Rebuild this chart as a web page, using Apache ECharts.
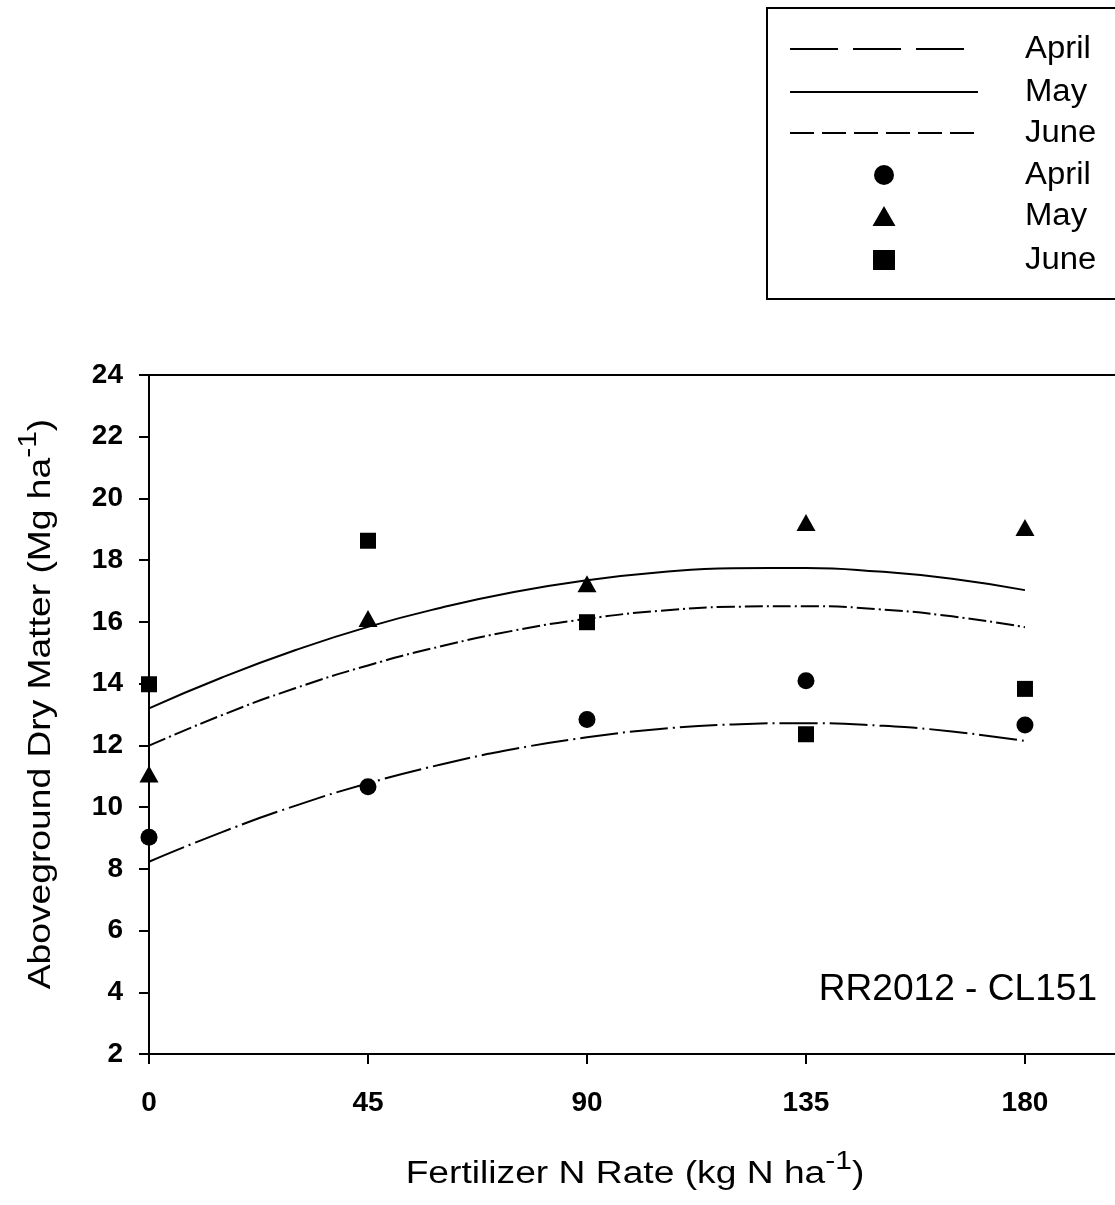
<!DOCTYPE html>
<html><head><meta charset="utf-8">
<script src="https://cdn.jsdelivr.net/npm/echarts@6/dist/echarts.min.js"></script>
<style>html,body{margin:0;padding:0;background:#fff}#c{width:1115px;height:1205px}</style>
</head><body><div id="c"></div>
<script>
// ---- data ----
const xTicks = [0, 45, 90, 135, 180];
const rates = [0, 45, 90, 135, 180];
const aprilObs = [9.02, 10.66, 12.84, 14.09, 12.66];
const mayObs   = [11.07, 16.11, 17.24, 19.22, 19.06];
const juneObs  = [13.98, 18.63, 15.99, 12.36, 13.83];
// fitted curves
const fitRates = [0, 15, 30, 45, 60, 75, 90, 105, 120, 135, 150, 165, 180];
const aprilFit = [8.23, 9.19, 10.04, 10.77, 11.38, 11.88, 12.26, 12.53, 12.68, 12.72, 12.64, 12.45, 12.14];
const mayFit   = [13.20, 14.20, 15.08, 15.84, 16.46, 16.97, 17.35, 17.61, 17.74, 17.75, 17.63, 17.40, 17.03];
const juneFit  = [11.99, 12.98, 13.85, 14.59, 15.21, 15.72, 16.10, 16.36, 16.49, 16.51, 16.41, 16.18, 15.83];
const legendNames = ['April', 'May', 'June', 'April', 'May', 'June'];
const annotation = 'RR2012 - CL151';

const FONT = "'Liberation Sans', Arial, sans-serif";
const XMAX = 198.5; // visible end of the x range (plot is cut at the right edge)
const pair = (xs, ys) => xs.map((x, i) => [x, ys[i]]);

const chart = echarts.init(document.getElementById('c'), null, {renderer: 'canvas'});

const lineSeries = (name, data, dash) => ({
  name, type: 'line', data, smooth: true, symbol: 'none', silent: true, z: 2,
  lineStyle: {color: '#000', width: 2, type: dash, opacity: 1}
});
const pointSeries = (name, data, symbol, size) => ({
  name, type: 'scatter', data, symbol, symbolSize: size, z: 3,
  itemStyle: {color: '#000', opacity: 1}
});

// legend graphics
const LX0 = 790, LX1 = 978, MX = 884, TX = 1025;
const rowsY = [49, 92, 133, 175, 216, 260];
const g = [];
g.push({type: 'rect', shape: {x: 767, y: 8, width: 380, height: 291},
  style: {fill: '#fff', stroke: '#000', lineWidth: 2}, z: 10});
g.push({type: 'line', shape: {x1: LX0, y1: rowsY[0], x2: 964, y2: rowsY[0]},
  style: {stroke: '#000', lineWidth: 2, lineDash: [48, 15]}, z: 11});
g.push({type: 'line', shape: {x1: LX0, y1: rowsY[1], x2: LX1, y2: rowsY[1]},
  style: {stroke: '#000', lineWidth: 2}, z: 11});
g.push({type: 'line', shape: {x1: LX0, y1: rowsY[2], x2: LX1, y2: rowsY[2]},
  style: {stroke: '#000', lineWidth: 2, lineDash: [24, 8]}, z: 11});
g.push({type: 'circle', shape: {cx: MX, cy: rowsY[3], r: 10}, style: {fill: '#000'}, z: 11});
g.push({type: 'polygon', shape: {points: [[MX, rowsY[4] - 10], [MX - 11.5, rowsY[4] + 10], [MX + 11.5, rowsY[4] + 10]]},
  style: {fill: '#000'}, z: 11});
g.push({type: 'rect', shape: {x: MX - 11, y: rowsY[5] - 10, width: 22, height: 20}, style: {fill: '#000'}, z: 11});
legendNames.forEach((n, i) => g.push({type: 'text', x: TX, y: rowsY[i], z: 11, scaleX: 1.06,
  style: {text: n, fill: '#000', font: `31px ${FONT}`, align: 'left', verticalAlign: 'middle'}}));

// axis titles and annotation
const supRich = {
  m: {fontFamily: FONT, fontSize: 31, lineHeight: 50, verticalAlign: 'bottom', fill: '#000'},
  s: {fontFamily: FONT, fontSize: 25, lineHeight: 25, verticalAlign: 'bottom', padding: [0, 0, 15, 0], fill: '#000'}
};
g.push({type: 'text', x: 635, y: 1165, z: 5, scaleX: 1.2,
  style: {text: '{m|Fertilizer N Rate (kg N ha}{s|-1}{m|)}', rich: supRich, align: 'center', verticalAlign: 'middle'}});
g.push({type: 'text', x: 32, y: 704, rotation: Math.PI / 2, z: 5, scaleX: 1.2,
  style: {text: '{m|Aboveground Dry Matter (Mg ha}{s|-1}{m|)}', rich: supRich, align: 'center', verticalAlign: 'middle'}});
g.push({type: 'text', x: 1097, y: 990, z: 5, scaleX: 1.03,
  style: {text: annotation, fill: '#000', font: `36px ${FONT}`, align: 'right', verticalAlign: 'middle'}});

chart.setOption({
  animation: false,
  backgroundColor: '#fff',
  grid: {left: 149, top: 375, right: 0, bottom: 151, show: false},
  xAxis: [{
    type: 'value', min: 0, max: XMAX,
    axisLine: {show: true, lineStyle: {color: '#000', width: 2}},
    axisTick: {show: true, length: 10, inside: false, lineStyle: {color: '#000', width: 2}, customValues: xTicks},
    axisLabel: {show: true, margin: 35, fontFamily: FONT, fontSize: 28, fontWeight: 'bold', color: '#000', customValues: xTicks},
    splitLine: {show: false}
  }, {
    type: 'value', min: 0, max: XMAX, position: 'top',
    axisLine: {show: true, lineStyle: {color: '#000', width: 2}},
    axisTick: {show: false}, axisLabel: {show: false}, splitLine: {show: false}
  }],
  yAxis: {
    type: 'value', min: 2, max: 24, interval: 2,
    axisLine: {show: true, lineStyle: {color: '#000', width: 2}},
    axisTick: {show: true, length: 10, inside: false, lineStyle: {color: '#000', width: 2}},
    axisLabel: {show: true, margin: 26, fontFamily: FONT, fontSize: 28, fontWeight: 'bold', color: '#000'},
    splitLine: {show: false}
  },
  series: [
    lineSeries('April fit', pair(fitRates, aprilFit), [38, 5, 2, 5]),
    lineSeries('May fit', pair(fitRates, mayFit), 'solid'),
    lineSeries('June fit', pair(fitRates, juneFit), [18, 4, 2, 4]),
    pointSeries('April', pair(rates, aprilObs), 'circle', 17),
    pointSeries('May', pair(rates, mayObs), 'triangle', [19, 17]),
    pointSeries('June', pair(rates, juneObs), 'rect', 16)
  ],
  graphic: g
});
</script></body></html>
